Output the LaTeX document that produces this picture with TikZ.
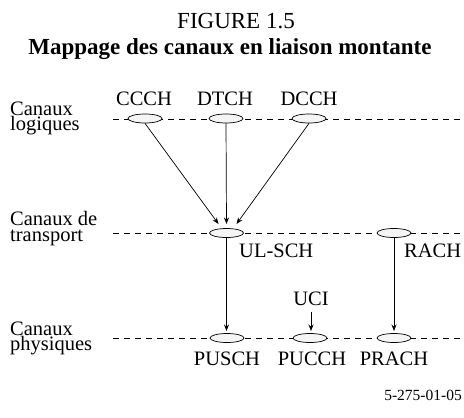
\documentclass[tikz,border=0pt]{standalone}
\usepackage{fontspec}
\setmainfont{Liberation Serif}
\usetikzlibrary{arrows.meta,shapes.geometric}
\begin{document}
\begin{tikzpicture}[x=1bp,y=-1bp,
  lbl/.style={font=\fontsize{20.5bp}{15bp}\selectfont, inner sep=0pt},
  side/.style={font=\fontsize{20.5bp}{15bp}\selectfont, inner sep=0pt, anchor=base west},
  chan/.style={ellipse, draw, fill=gray!8, minimum width=34bp, minimum height=9bp, inner sep=0pt, line width=0.7bp},
  layer/.style={dash pattern=on 6bp off 5bp, line width=0.7bp},
  conn/.style={-{Stealth[length=6.5bp,width=5bp]}, line width=0.7bp},
]
\useasboundingbox (0,0) rectangle (464,417);

% titles
\node[font=\fontsize{23bp}{26bp}\selectfont, inner sep=0pt, anchor=base] (fig) at (236,28) {FIGURE 1.5};
\node[font=\fontsize{23bp}{26bp}\selectfont\bfseries, inner sep=0pt, anchor=base] (title) at (230,54) {Mappage des canaux en liaison montante};

% layer lines
\coordinate (la) at (113,119); \coordinate (lb) at (462,119);
\coordinate (ta) at (113,233); \coordinate (tb) at (462,233);
\coordinate (pa) at (113,338); \coordinate (pb) at (462,338);
\draw[layer] (la) -- (lb);
\draw[layer] (ta) -- (tb);
\draw[layer] (pa) -- (pb);

% side labels
\node[side] (sl1) at (10,115) {Canaux};
\node[side] (sl2) at (10,130.5) {logiques};
\node[side] (st1) at (10,225.5) {Canaux de};
\node[side] (st2) at (10,241) {transport};
\node[side] (sp1) at (10,335) {Canaux};
\node[side] (sp2) at (10,350.5) {physiques};

% channels
\node[chan] (ccch) at (145,118.5) {};
\node[chan] (dtch) at (226,118.5) {};
\node[chan] (dcch) at (309,118.5) {};
\node[chan] (ulsch) at (226.5,233) {};
\node[chan] (rach) at (394,233) {};
\node[chan] (pusch) at (227,338) {};
\node[chan] (pucch) at (310,338) {};
\node[chan] (prach) at (394,338) {};

% channel labels
\node[lbl, anchor=base] (tccch) at (144,105) {CCCH};
\node[lbl, anchor=base] (tdtch) at (225,105) {DTCH};
\node[lbl, anchor=base] (tdcch) at (309,105) {DCCH};
\node[lbl, anchor=base west] (tulsch) at (239,257) {UL-SCH};
\node[lbl, anchor=base west] (track) at (404,257) {RACH};
\node[lbl, anchor=base] (uci) at (311,305) {UCI};
\node[lbl, anchor=base] (tpusch) at (227,365) {PUSCH};
\node[lbl, anchor=base] (tpucch) at (312,365) {PUCCH};
\node[lbl, anchor=base] (tprach) at (394,365) {PRACH};
\node[font=\fontsize{15.5bp}{18bp}\selectfont, inner sep=0pt, anchor=base east] (ref) at (462,400) {5-275-01-05};

% connectors
\coordinate (tipA) at (218.5,224);
\coordinate (tipB) at (226.5,224);
\coordinate (tipC) at (236.5,224);
\coordinate (tipD) at (226.5,331);
\coordinate (tipE) at (394,331);
\coordinate (uciS) at (311,312);
\coordinate (tipF) at (311,331);
\draw[conn] (ccch.south) -- (tipA);
\draw[conn] (dtch.south) -- (tipB);
\draw[conn] (dcch.south) -- (tipC);
\draw[conn] (ulsch.south) -- (tipD);
\draw[conn] (rach.south) -- (tipE);
\draw[conn] (uciS) -- (tipF);
\end{tikzpicture}
\end{document}
